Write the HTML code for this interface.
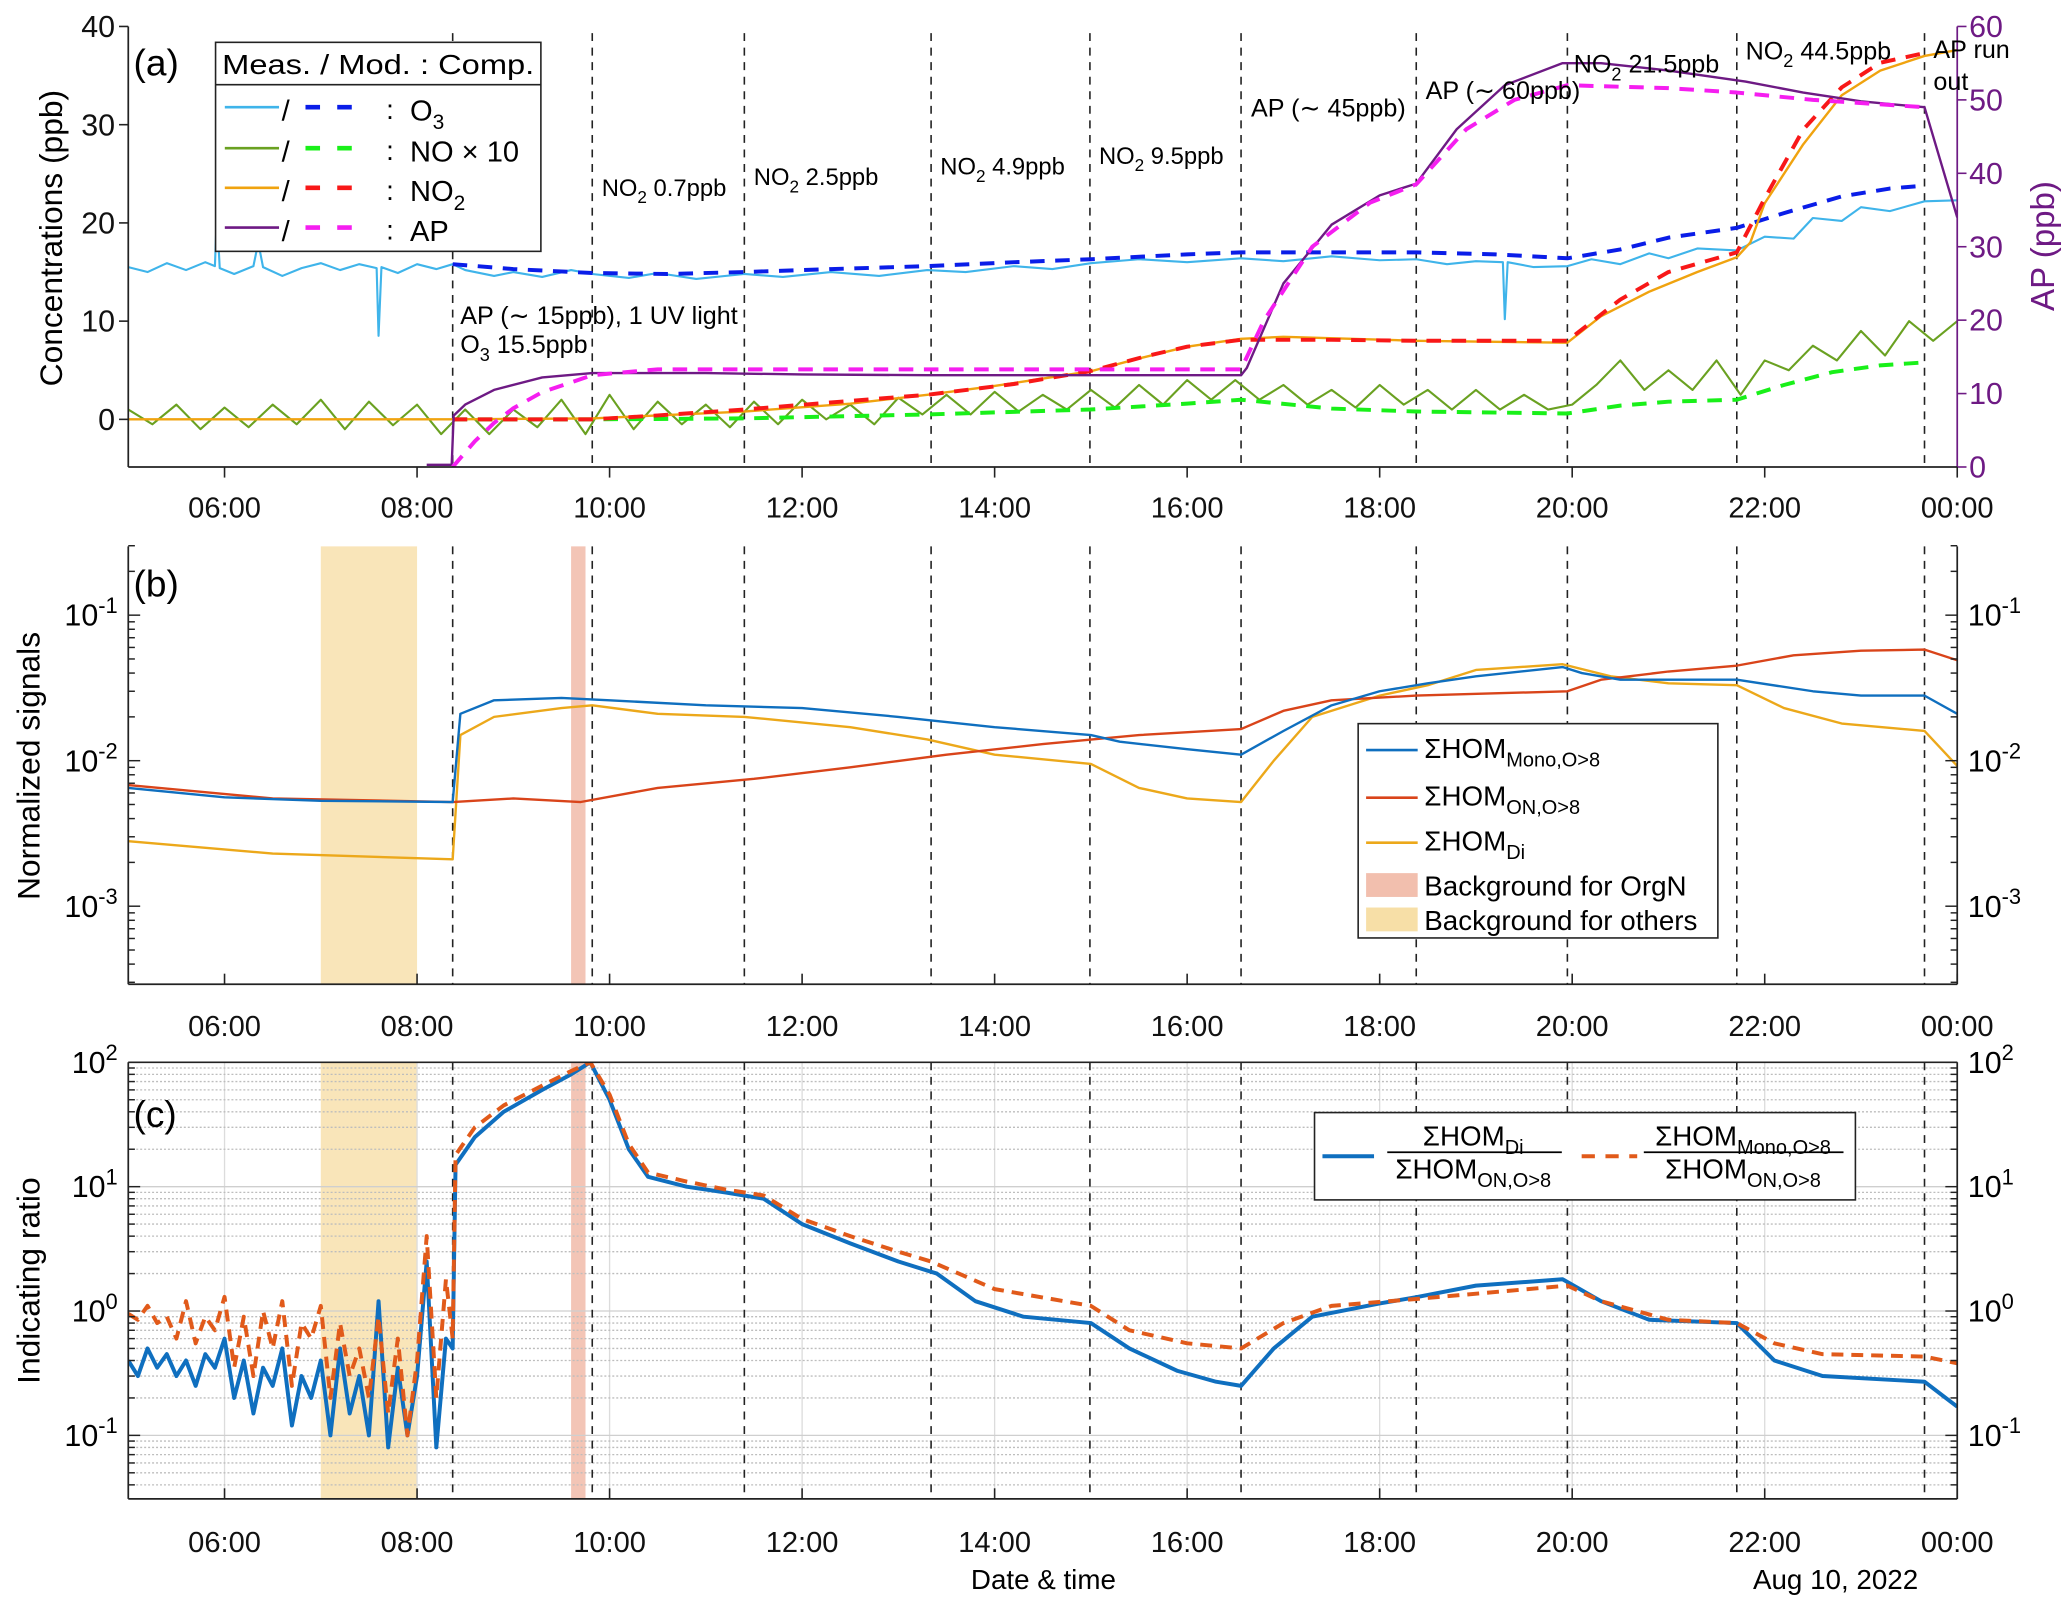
<!DOCTYPE html>
<html><head><meta charset="utf-8">
<style>
html,body{margin:0;padding:0;background:#fff;}
svg{display:block;font-family:"Liberation Sans",Arial,sans-serif;}
</style></head>
<body>
<svg id="chart" width="2067" height="1610" viewBox="0 0 1563 1217" preserveAspectRatio="none" xmlns="http://www.w3.org/2000/svg">
<rect x="0" y="0" width="1563" height="1217" fill="#fff"/>
</svg>
<script>
// ---------- DATA ----------
const eventHours = [8.37, 9.82, 11.40, 13.34, 14.99, 16.56, 18.38, 19.95, 21.71, 23.66];
const xTickHours = [6, 8, 10, 12, 14, 16, 18, 20, 22, 24];
const xTickLabels = ["06:00","08:00","10:00","12:00","14:00","16:00","18:00","20:00","22:00","00:00"];
const aLeftTicks = [0, 10, 20, 30, 40];
const aRightTicks = [0, 10, 20, 30, 40, 50, 60];

// Panel a
const o3MeasT = [5,5.2,5.4,5.6,5.8,5.9,5.92,5.95,6.1,6.3,6.35,6.4,6.6,6.8,7.0,7.2,7.4,7.58,7.6,7.63,7.8,8.0,8.2,8.37,8.5,8.8,9.0,9.3,9.6,9.82,10.2,10.5,10.9,11.4,11.8,12.3,12.8,13.3,13.7,14.2,14.6,15.0,15.5,16.0,16.56,17.0,17.5,18.0,18.38,18.7,19.0,19.28,19.3,19.33,19.6,19.95,20.2,20.5,20.8,21.0,21.3,21.71,22.0,22.3,22.5,22.8,23.0,23.3,23.66,24.0];
const o3MeasV = [15.5,15.0,15.9,15.2,16.0,15.6,21,15.4,14.8,15.6,18,15.5,14.6,15.4,15.9,15.2,15.8,15.4,8.5,15.5,14.9,15.8,15.3,15.8,15.2,14.6,15.0,14.5,15.2,14.8,14.4,14.9,14.3,14.8,14.5,15.0,14.6,15.2,15.0,15.6,15.3,15.9,16.3,16.0,16.4,16.1,16.6,16.2,16.3,15.8,16.1,16.0,10.2,16.0,15.5,15.6,16.3,15.8,16.9,16.4,17.4,17.2,18.6,18.4,20.5,20.2,21.6,21.2,22.2,22.3];
const o3ModT = [8.37,9.0,9.82,10.6,11.4,12.3,13.3,14.2,15.0,16.0,16.56,17.5,18.38,19.2,19.95,20.5,21.0,21.71,22.2,22.8,23.3,23.66];
const o3ModV = [15.8,15.3,14.9,14.8,15.0,15.3,15.6,16.0,16.3,16.8,17.0,17.0,17.0,16.8,16.4,17.3,18.5,19.5,21.0,22.7,23.5,23.8];
const no2MeasT = [5,8.37,9.82,10.5,11.4,12.5,13.3,14.0,15.0,15.5,16.0,16.56,17.0,18.38,19.95,20.3,20.8,21.3,21.71,21.85,22.0,22.4,22.8,23.2,23.66,24.0];
const no2MeasV = [0,0,0.1,0.4,0.8,1.6,2.5,3.4,4.9,6.2,7.4,8.2,8.4,8.0,7.8,10.5,13.0,15.0,16.5,18,22,28,33,35.5,37,37.6];
const no2ModT = [8.37,9.82,10.5,11.4,12.4,13.3,14.2,14.99,15.6,16.0,16.56,17.5,18.38,19.95,20.5,21.0,21.71,22.0,22.4,22.8,23.2,23.66];
const no2ModV = [0,0,0.4,1.0,1.8,2.5,3.6,4.9,6.5,7.4,8.1,8.1,8.0,8.0,12.2,15.0,17.0,22.5,29.5,33.8,36.3,37.3];
const noMeasT = [5,5.25,5.5,5.75,6,6.25,6.5,6.75,7,7.25,7.5,7.75,8,8.25,8.5,8.75,9,9.25,9.5,9.75,10,10.25,10.5,10.75,11,11.25,11.5,11.75,12,12.25,12.5,12.75,13,13.25,13.5,13.75,14,14.25,14.5,14.75,15,15.25,15.5,15.75,16,16.25,16.5,16.75,17,17.25,17.5,17.75,18,18.25,18.5,18.75,19,19.25,19.5,19.75,20,20.25,20.5,20.75,21,21.25,21.5,21.75,22,22.25,22.5,22.75,23,23.25,23.5,23.75,24];
const noMeasV = [1,-0.5,1.5,-1,1.2,-0.8,1.5,-0.5,2,-1,1.8,-0.6,1.5,-1.5,1,-1.5,1,-0.8,2,-1.5,2.5,-1,1.8,-0.5,1.5,-0.8,1.8,-0.5,2,0,1.5,-0.5,2.2,0.5,2.5,0.5,2.8,0.8,2.5,1,3,1.2,3.5,1.5,4,2,4,2,3.5,1.5,3,1.2,3.5,1.5,3,1,3,1,2.5,1,1.5,3.5,6,3,5,3,6,2.5,6,5,7.5,6,9,6.5,10,8,10];
const noModT = [8.37,9.82,11.4,13.3,14.99,16.0,16.56,17.5,18.38,19.95,20.5,21.0,21.71,22.2,22.7,23.2,23.66];
const noModV = [0,0,0.1,0.5,1.0,1.6,2.0,1.1,0.8,0.6,1.4,1.8,2.0,3.5,4.8,5.5,5.8];
const apMeasT = [8.1,8.36,8.38,8.5,8.8,9.3,9.82,11.0,12.0,13.3,15.0,16.56,16.62,17.0,17.5,18.0,18.38,18.8,19.3,19.9,20.3,21.0,21.8,22.4,23.0,23.66,24.0];
const apMeasV = [0.3,0.3,7,8.5,10.5,12.2,12.8,12.8,12.6,12.5,12.5,12.5,13.5,25,33,37,38.6,46,52,55,55,54,52.5,51,49.8,49,34];
const apModT = [8.37,8.6,8.8,9.0,9.3,9.82,10.5,12.0,14.0,16.56,16.8,17.3,17.9,18.38,18.9,19.4,19.95,21.0,21.71,22.5,23.66];
const apModV = [0,3.5,6,8,10.2,12.5,13.3,13.3,13.3,13.3,20,30,36,38.5,46,50,52,51.6,51,50,49];

// Panel b
const bgOthers = [7.0, 8.0];
const bgOrgN = [9.6, 9.75];
const monoT = [5,6,7,8.37,8.45,8.8,9.5,10,11,12,13,14,15,15.3,16,16.56,17,17.5,18,18.5,19,19.9,20.1,20.5,21.71,22.5,23,23.66,24];
const monoV = [0.0065,0.0056,0.0053,0.0052,0.021,0.026,0.027,0.026,0.024,0.023,0.020,0.017,0.015,0.0135,0.012,0.011,0.016,0.024,0.030,0.034,0.038,0.044,0.040,0.036,0.036,0.030,0.028,0.028,0.021];
const onT = [5,6.5,8.37,9,9.7,10.5,11.5,12.5,13.5,14.5,15.5,16.56,17,17.5,18.38,19.95,20.3,21,21.71,22.3,23,23.66,24];
const onV = [0.0068,0.0055,0.0052,0.0055,0.0052,0.0065,0.0075,0.009,0.011,0.013,0.015,0.0165,0.022,0.026,0.028,0.030,0.036,0.041,0.045,0.053,0.057,0.058,0.049];
const diT = [5,6.5,8.37,8.45,8.8,9.5,9.82,10.5,11.4,12.5,13.3,14,15,15.5,16,16.56,16.9,17.3,18,18.5,19,19.9,20.4,21,21.71,22.2,22.8,23.66,24];
const diV = [0.0028,0.0023,0.0021,0.015,0.020,0.023,0.024,0.021,0.020,0.017,0.014,0.011,0.0095,0.0065,0.0055,0.0052,0.010,0.020,0.028,0.033,0.042,0.046,0.038,0.034,0.033,0.023,0.018,0.016,0.0092];

// Panel c
const rDiT = [5,5.1,5.2,5.3,5.4,5.5,5.6,5.7,5.8,5.9,6,6.1,6.2,6.3,6.4,6.5,6.6,6.7,6.8,6.9,7,7.1,7.2,7.3,7.4,7.5,7.6,7.7,7.8,7.9,8,8.1,8.2,8.3,8.37,8.4,8.6,8.9,9.3,9.6,9.8,10,10.2,10.4,10.8,11.2,11.6,12,12.5,13,13.4,13.8,14.3,15,15.4,15.9,16.3,16.56,16.9,17.3,18,18.4,19,19.9,20.3,20.8,21.71,22.1,22.6,23.66,24];
const rDiV = [0.4,0.3,0.5,0.35,0.45,0.3,0.4,0.25,0.45,0.35,0.6,0.2,0.4,0.15,0.35,0.25,0.5,0.12,0.3,0.2,0.4,0.1,0.5,0.15,0.3,0.1,1.2,0.08,0.35,0.1,0.3,2.5,0.08,0.6,0.5,15,25,40,60,80,100,50,20,12,10,9,8,5,3.5,2.5,2,1.2,0.9,0.8,0.5,0.33,0.27,0.25,0.5,0.9,1.15,1.3,1.6,1.8,1.2,0.85,0.8,0.4,0.3,0.27,0.17];
const rMonoT = [5,5.1,5.2,5.3,5.4,5.5,5.6,5.7,5.8,5.9,6,6.1,6.2,6.3,6.4,6.5,6.6,6.7,6.8,6.9,7,7.1,7.2,7.3,7.4,7.5,7.6,7.7,7.8,7.9,8,8.1,8.2,8.3,8.37,8.4,8.6,8.9,9.3,9.6,9.8,10,10.2,10.4,10.8,11.2,11.6,12,12.5,13,13.34,14,15,15.4,16,16.56,17,17.5,18.38,19.95,20.3,21,21.71,22.1,22.6,23.66,24];
const rMonoV = [0.95,0.85,1.1,0.8,0.9,0.6,1.2,0.55,0.9,0.7,1.3,0.35,0.9,0.3,1.0,0.5,1.2,0.25,0.8,0.6,1.1,0.2,0.8,0.3,0.5,0.2,0.9,0.15,0.6,0.1,0.4,4,0.2,1.8,0.6,18,30,45,65,85,100,55,22,13,11,9.5,8.5,5.5,4,3,2.5,1.5,1.1,0.7,0.55,0.5,0.8,1.1,1.25,1.6,1.2,0.85,0.8,0.55,0.45,0.43,0.38];

// ---------- AXES ----------
const L = 97, R = 1480;
function X(h){ return L + (h - 5) * (R - L) / 19; }
const A = {top:20, bot:353};
function YA(v){ return 317 - v * 7.425; }
function YAP(v){ return 353 - v * 5.55; }
const B = {top:413, bot:744};
function YB(v){ return 465 - (Math.log10(v) + 1) * 110; }
const C = {top:803, bot:1133};
function YC(v){ return 991 - Math.log10(v) * 94; }

const svg = document.getElementById('chart');
const NS = 'http://www.w3.org/2000/svg';
function mk(tag, attrs, parent){
  const e = document.createElementNS(NS, tag);
  for (const k in attrs) e.setAttribute(k, attrs[k]);
  (parent || svg).appendChild(e);
  return e;
}
function group(name){
  const g = mk('g', {});
  
  
  return g;
}
function pts(ts, vs, fy){ return ts.map((t,i)=>X(t).toFixed(2)+','+fy(vs[i]).toFixed(2)).join(' '); }
function clip(id, top, bot){
  const cp = mk('clipPath', {id:id});
  mk('rect', {x:L, y:top, width:R-L, height:bot-top}, cp);
}
clip('ca', A.top-5, A.bot); clip('cb', B.top, B.bot); clip('cc', C.top, C.bot);

function series(name, ts, vs, fy, color, w, dash, cid, g){
  const p = mk('polyline', {points:pts(ts,vs,fy), fill:'none', stroke:color, 'stroke-width':w, 'stroke-linejoin':'round', 'clip-path':'url(#'+cid+')'}, g);
  if (dash) p.setAttribute('stroke-dasharray', dash);
  
  
  return p;
}
function text(name, x, y, str, size, anchor, color, parent){
  const t = mk('text', {x:x, y:y, 'font-size':size, 'text-anchor':anchor||'start', fill:color||'#000'}, parent);
  t.textContent = str;
  
  
  return t;
}
function subText(name, x, y, parts, size, anchor, parent){
  const t = mk('text', {x:x, y:y, 'font-size':size, 'text-anchor':anchor||'start'}, parent);
  parts.forEach(p=>{
    const s = mk('tspan', {}, t);
    if (p[1]==='sub'){ s.setAttribute('font-size', size*0.72); s.setAttribute('dy', size*0.3); }
    else if (p[1]==='sup'){ s.setAttribute('font-size', size*0.72); s.setAttribute('dy', -size*0.42); }
    else if (p[1]==='n2'){ s.setAttribute('dy', -size*0.3); }
    s.textContent = p[0];
  });
  
  
  return t;
}
function xAxis(panel, top, bot, labY, inward){
  const g = group(panel+'-x-axis');
  const ln = mk('line', {x1:L, y1:bot, x2:R, y2:bot, stroke:'#222', 'stroke-width':1.3}, g);
  
  
  xTickHours.forEach((h,i)=>{
    const tk = mk('line', {x1:X(h), y1:bot, x2:X(h), y2:inward? bot-8 : bot+8, stroke:'#222', 'stroke-width':1.2}, g);
    
    
    text(panel+'-x-tick-label', X(h), labY, xTickLabels[i], 22, 'middle', '#111', g);
  });
}
function vLines(panel, top, bot){
  const g = group(panel+'-event-lines');
  eventHours.forEach(h=>{
    const l = mk('line', {x1:X(h), y1:top, x2:X(h), y2:bot, stroke:'#222', 'stroke-width':1.2, 'stroke-dasharray':'6,5'}, g);
    
    
  });
}
function shading(panel, top, bot){
  const g = group(panel+'-background-shading');
  const r1 = mk('rect', {x:X(bgOthers[0]), y:top, width:X(bgOthers[1])-X(bgOthers[0]), height:bot-top, fill:'#f7dfa7', opacity:0.8}, g);
  
  
  const r2 = mk('rect', {x:X(bgOrgN[0]), y:top, width:X(bgOrgN[1])-X(bgOrgN[0]), height:bot-top, fill:'#f2bfae', opacity:0.9}, g);
  
  
}
function logAxis(panel, fy, top, bot, expMin, expMax, side){
  const g = group(panel+'-y-axis-'+side);
  const x = side==='left'? L : R;
  const ln = mk('line', {x1:x, y1:top, x2:x, y2:bot, stroke:'#222', 'stroke-width':1.3}, g);
  
  
  const dir = side==='left'? 1 : -1;
  for (let e=expMin; e<=expMax; e++){
    for (let m=1; m<10; m++){
      const v = m*Math.pow(10,e), y = fy(v);
      if (y < top-0.5 || y > bot+0.5) continue;
      const tk = mk('line', {x1:x, y1:y, x2:x+dir*(m===1?9:5), y2:y, stroke:'#222', 'stroke-width':1.1}, g);
      
      
      if (m===1){
        const lx = side==='left'? x-8 : x+8;
        subText(panel+'-y-tick-label', lx, y+8, [['10','n'],[String(e),'sup']], 23, side==='left'?'end':'start', g);
      }
    }
  }
}

// ---------- PANEL A ----------
vLines('panel-a', A.top+5, A.bot);
const ga = group('panel-a-series');
series('no-measured-line', noMeasT, noMeasV, YA, '#6aa121', 1.6, null, 'ca', ga);
series('no-model-line', noModT, noModV, YA, '#19f019', 3, '11,8', 'ca', ga);
series('o3-measured-line', o3MeasT, o3MeasV, YA, '#3fb4ea', 1.6, null, 'ca', ga);
series('o3-model-line', o3ModT, o3ModV, YA, '#0a1de8', 3, '11,8', 'ca', ga);
series('no2-measured-line', no2MeasT, no2MeasV, YA, '#f0a30f', 1.8, null, 'ca', ga);
series('no2-model-line', no2ModT, no2ModV, YA, '#f81818', 3, '11,8', 'ca', ga);
series('ap-measured-line', apMeasT, apMeasV, YAP, '#6e1a84', 1.8, null, 'ca', ga);
series('ap-model-line', apModT, apModV, YAP, '#f51ef0', 3, '11,8', 'ca', ga);
(function(){
  const g = group('panel-a-y-axis-left');
  const ln = mk('line', {x1:L, y1:A.top, x2:L, y2:A.bot, stroke:'#222', 'stroke-width':1.3}, g);
  
  
  aLeftTicks.forEach(v=>{
    const tk = mk('line', {x1:L-7, y1:YA(v), x2:L, y2:YA(v), stroke:'#222', 'stroke-width':1.2}, g);
    
    
    text('panel-a-y-tick-label', L-10, YA(v)+8, String(v), 23, 'end', '#111', g);
  });
  const g2 = group('panel-a-y-axis-right');
  const ln2 = mk('line', {x1:R, y1:A.top, x2:R, y2:A.bot, stroke:'#6e1a84', 'stroke-width':1.3}, g2);
  
  
  aRightTicks.forEach(v=>{
    const tk = mk('line', {x1:R, y1:YAP(v), x2:R+7, y2:YAP(v), stroke:'#6e1a84', 'stroke-width':1.2}, g2);
    
    
    text('panel-a-right-tick-label', R+9, YAP(v)+8, String(v), 23, 'start', '#6e1a84', g2);
  });
})();
xAxis('panel-a', A.top, A.bot, 391, false);
text('panel-a-label', 101, 57, '(a)', 28);
(function(){
  const t = text('panel-a-y-axis-title', 0, 0, 'Concentrations (ppb)', 24, 'middle');
  t.setAttribute('transform', 'translate(47,180) rotate(-90)');
  const t2 = text('panel-a-right-axis-title', 0, 0, 'AP (ppb)', 25, 'middle', '#6e1a84');
  t2.setAttribute('transform', 'translate(1553,186) rotate(-90)');
})();
// annotations
const ann = group('panel-a-annotations');
subText('annotation-no2-0.7', 455, 148, [['NO','n'],['2','sub'],[' 0.7ppb','n2']], 18, 'start', ann);
subText('annotation-no2-2.5', 570, 140, [['NO','n'],['2','sub'],[' 2.5ppb','n2']], 18, 'start', ann);
subText('annotation-no2-4.9', 711, 132, [['NO','n'],['2','sub'],[' 4.9ppb','n2']], 18, 'start', ann);
subText('annotation-no2-9.5', 831, 124, [['NO','n'],['2','sub'],[' 9.5ppb','n2']], 18, 'start', ann);
text('annotation-ap-45', 946, 88, 'AP (∼ 45ppb)', 19, 'start', '#000', ann);
text('annotation-ap-60', 1078, 75, 'AP (∼ 60ppb)', 19, 'start', '#000', ann);
subText('annotation-no2-21.5', 1190, 55, [['NO','n'],['2','sub'],[' 21.5ppb','n2']], 19, 'start', ann);
subText('annotation-no2-44.5', 1320, 45, [['NO','n'],['2','sub'],[' 44.5ppb','n2']], 19, 'start', ann);
text('annotation-ap-run-out-1', 1462, 44, 'AP run', 19, 'start', '#000', ann);
text('annotation-ap-run-out-2', 1462, 68, 'out', 19, 'start', '#000', ann);
text('annotation-start-1', 348, 245, 'AP (∼ 15ppb), 1 UV light', 19, 'start', '#000', ann);
subText('annotation-start-2', 348, 267, [['O','n'],['3','sub'],[' 15.5ppb','n2']], 19, 'start', ann);
// legend a
(function(){
  const g = group('panel-a-legend');
  mk('rect', {x:163, y:32, width:246, height:158, fill:'#fff', stroke:'#222', 'stroke-width':1.2}, g);
  mk('line', {x1:163, y1:64, x2:409, y2:64, stroke:'#222', 'stroke-width':1.2}, g);
  const h = text('legend-header', 168, 56, 'Meas. / Mod. :  Comp.', 21, 'start', '#000', g);
  h.setAttribute('textLength', '236');
  h.setAttribute('lengthAdjust', 'spacingAndGlyphs');
  const rows = [
    ['o3', '#3fb4ea', '#0a1de8', [['O','n'],['3','sub']], 84],
    ['no', '#6aa121', '#19f019', [['NO × 10','n']], 115],
    ['no2', '#f0a30f', '#f81818', [['NO','n'],['2','sub']], 145],
    ['ap', '#6e1a84', '#f51ef0', [['AP','n']], 175]
  ];
  rows.forEach(r=>{
    const e = group('legend-entry-'+r[0]);
    g.appendChild(e);
    mk('line', {x1:170, y1:r[4]-3, x2:211, y2:r[4]-3, stroke:r[1], 'stroke-width':2}, e);
    text('legend-slash', 213, r[4]+7, '/', 22, 'start', '#000', e);
    mk('line', {x1:231, y1:r[4]-3, x2:270, y2:r[4]-3, stroke:r[2], 'stroke-width':3.5, 'stroke-dasharray':'11,13'}, e);
    text('legend-colon', 292, r[4]+6, ':', 21, 'start', '#000', e);
    subText('legend-label-'+r[0], 310, r[4]+7, r[3], 22, 'start', e);
  });
})();

// ---------- PANEL B ----------
shading('panel-b', B.top, B.bot);
vLines('panel-b', B.top, B.bot);
const gb = group('panel-b-series');
series('hom-di-line', diT, diV, YB, '#eca81a', 1.8, null, 'cb', gb);
series('hom-on-line', onT, onV, YB, '#d9441a', 1.8, null, 'cb', gb);
series('hom-mono-line', monoT, monoV, YB, '#0f6fbf', 1.8, null, 'cb', gb);
logAxis('panel-b', YB, B.top, B.bot, -4, -1, 'left');
logAxis('panel-b', YB, B.top, B.bot, -4, -1, 'right');
xAxis('panel-b', B.top, B.bot, 783, true);
text('panel-b-label', 101, 451, '(b)', 28);
(function(){
  const t = text('panel-b-y-axis-title', 0, 0, 'Normalized signals', 24, 'middle');
  t.setAttribute('transform', 'translate(30,579) rotate(-90)');
  const g = group('panel-b-legend');
  mk('rect', {x:1027, y:547, width:272, height:162, fill:'#fff', stroke:'#222', 'stroke-width':1.2}, g);
  const rows = [['mono','#0f6fbf','Mono,O>8',567],['on','#d9441a','ON,O>8',603],['di','#eca81a','Di',637]];
  rows.forEach(r=>{
    const e = group('legend-entry-'+r[0]); g.appendChild(e);
    mk('line', {x1:1033, y1:r[3], x2:1072, y2:r[3], stroke:r[1], 'stroke-width':2}, e);
    subText('legend-label-'+r[0], 1077, r[3]+6, [['ΣHOM','n'],[r[2],'sub']], 21, 'start', e);
  });
  const e1 = group('legend-entry-orgn'); g.appendChild(e1);
  mk('rect', {x:1033, y:660, width:39, height:18, fill:'#f2bfae'}, e1);
  text('legend-label-orgn', 1077, 677, 'Background for OrgN', 21, 'start', '#000', e1);
  const e2 = group('legend-entry-others'); g.appendChild(e2);
  mk('rect', {x:1033, y:686, width:39, height:18, fill:'#f7dfa7'}, e2);
  text('legend-label-others', 1077, 703, 'Background for others', 21, 'start', '#000', e2);
})();

// ---------- PANEL C ----------
shading('panel-c', C.top, C.bot);
(function(){
  const g = group('panel-c-grid');
  xTickHours.forEach(h=>{
    mk('line', {x1:X(h), y1:C.top, x2:X(h), y2:C.bot, stroke:'#dcdcdc', 'stroke-width':1}, g);
  });
  for (let e=-2; e<=1; e++){
    for (let m=1; m<10; m++){
      const y = YC(m*Math.pow(10,e));
      if (y < C.top || y > C.bot) continue;
      mk('line', {x1:L, y1:y, x2:R, y2:y, stroke: m===1?'#cfcfcf':'#bdbdbd', 'stroke-width':1, 'stroke-dasharray': m===1?'':'1.5,1.5'}, g);
    }
  }
})();
vLines('panel-c', C.top, C.bot);
const gc = group('panel-c-series');
series('ratio-di-on-line', rDiT, rDiV, YC, '#0f6fbf', 3, null, 'cc', gc);
series('ratio-mono-on-line', rMonoT, rMonoV, YC, '#e15a1a', 3, '9,6', 'cc', gc);
logAxis('panel-c', YC, C.top, C.bot, -2, 2, 'left');
logAxis('panel-c', YC, C.top, C.bot, -2, 2, 'right');
(function(){
  const t = mk('line', {x1:L, y1:C.top, x2:R, y2:C.top, stroke:'#222', 'stroke-width':1.3});
  
  
})();
xAxis('panel-c', C.top, C.bot, 1173, true);
text('panel-c-label', 101, 852, '(c)', 28);
text('x-axis-title', 789, 1201, 'Date & time', 21, 'middle');
text('x-axis-date', 1388, 1201, 'Aug 10, 2022', 21, 'middle');
(function(){
  const t = text('panel-c-y-axis-title', 0, 0, 'Indicating ratio', 24, 'middle');
  t.setAttribute('transform', 'translate(30,968) rotate(-90)');
  const g = group('panel-c-legend');
  mk('rect', {x:994, y:841, width:409, height:66, fill:'#fff', stroke:'#222', 'stroke-width':1.2}, g);
  const e1 = group('legend-entry-di-on'); g.appendChild(e1);
  mk('line', {x1:1000, y1:874, x2:1039, y2:874, stroke:'#0f6fbf', 'stroke-width':3}, e1);
  subText('legend-di-numerator', 1114, 866, [['ΣHOM','n'],['Di','sub']], 21, 'middle', e1);
  mk('line', {x1:1049, y1:871, x2:1181, y2:871, stroke:'#000', 'stroke-width':1.3}, e1);
  subText('legend-di-denominator', 1114, 891, [['ΣHOM','n'],['ON,O>8','sub']], 21, 'middle', e1);
  const e2 = group('legend-entry-mono-on'); g.appendChild(e2);
  mk('line', {x1:1196, y1:874, x2:1238, y2:874, stroke:'#e15a1a', 'stroke-width':3, 'stroke-dasharray':'10,8'}, e2);
  subText('legend-mono-numerator', 1318, 866, [['ΣHOM','n'],['Mono,O>8','sub']], 21, 'middle', e2);
  mk('line', {x1:1243, y1:871, x2:1394, y2:871, stroke:'#000', 'stroke-width':1.3}, e2);
  subText('legend-mono-denominator', 1318, 891, [['ΣHOM','n'],['ON,O>8','sub']], 21, 'middle', e2);
})();
</script>
</body></html>
